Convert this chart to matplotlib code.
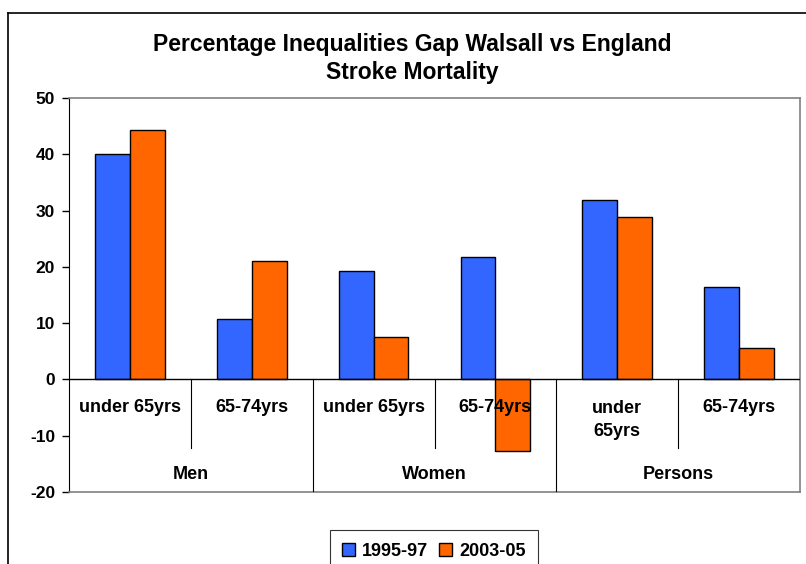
import numpy as np
import matplotlib
matplotlib.use("Agg")
import matplotlib.pyplot as plt
from matplotlib.patches import Rectangle
from matplotlib.lines import Line2D

plt.rcParams['font.family'] = ['Liberation Sans', 'DejaVu Sans']
plt.rcParams['axes.unicode_minus'] = False

# percentage gap, Walsall vs England
groups = ["Men", "Women", "Persons"]
ages = ["under 65yrs", "65-74yrs", "under 65yrs", "65-74yrs", "under\n65yrs", "65-74yrs"]
series = ["1995-97", "2003-05"]
gap_9597 = [40.0, 10.7, 19.2, 21.8, 31.8, 16.5]
gap_0305 = [44.4, 21.0, 7.6, -12.8, 28.8, 5.5]
colors = ["#3366FF", "#FF6600"]

fig = plt.figure(figsize=(8.06, 5.64), dpi=100)
ax = fig.add_axes([69 / 806, 1 - 492 / 564, 731 / 806, 394 / 564])

x = np.arange(len(ages))
w = 1 / 3.5
ax.bar(x - w / 2, gap_9597, w, color=colors[0], edgecolor="black", linewidth=1, zorder=2)
ax.bar(x + w / 2, gap_0305, w, color=colors[1], edgecolor="black", linewidth=1, zorder=2)

ax.set_xlim(-0.5, len(ages) - 0.5)
ax.set_ylim(-20, 50)
ax.set_yticks(range(-20, 51, 10))
ax.set_xticks([])
ax.tick_params(axis="y", direction="out", length=5, width=1, labelsize=12.5, pad=5)
for lab in ax.get_yticklabels():
    lab.set_fontweight("bold")

for side in ["top", "right", "bottom"]:
    ax.spines[side].set_color("#808080")
    ax.spines[side].set_linewidth(1.2)
ax.spines["left"].set_color("black")

# zero line
ax.axhline(0, color="black", linewidth=1, zorder=3)

# category axis labels and separators
for i, lab in enumerate(ages):
    ypos = -7.2 if "\n" in lab else -5.0
    ax.text(i, ypos, lab, ha="center", va="center", fontsize=13,
            fontweight="bold", linespacing=1.45, zorder=4)
for k in range(1, len(ages)):
    bottom = -20 if k % 2 == 0 else -12.1
    ax.plot([k - 0.5, k - 0.5], [0, bottom], color="black", linewidth=0.8, zorder=3)
for g, name in enumerate(groups):
    ax.text(2 * g + 0.5, -16.9, name, ha="center", va="center",
            fontsize=13, fontweight="bold", zorder=4)

fig.text(0.511, 1 - 44 / 564, "Percentage Inequalities Gap Walsall vs England",
         ha="center", va="center", fontsize=16.5, fontweight="bold")
fig.text(0.511, 1 - 72 / 564, "Stroke Mortality",
         ha="center", va="center", fontsize=16.5, fontweight="bold")

# outer chart frame
fig.add_artist(Line2D([8 / 806, 8 / 806], [0, 1 - 13 / 564], color="black", linewidth=1.2))
fig.add_artist(Line2D([8 / 806, 1], [1 - 13 / 564, 1 - 13 / 564], color="black", linewidth=1.2))

handles = [Rectangle((0, 0), 1, 1, facecolor=c, edgecolor="black", linewidth=1) for c in colors]
leg = fig.legend(handles, series, loc="upper center", bbox_to_anchor=(434 / 806, 1 - 521 / 564),
                 ncol=2, frameon=True, fancybox=False, edgecolor="black",
                 prop={"weight": "bold", "size": 13}, handlelength=0.7, handleheight=0.7,
                 handletextpad=0.4, columnspacing=0.6, borderpad=0.7)
leg.get_frame().set_linewidth(0.8)

fig.savefig("out.png", dpi=100)
